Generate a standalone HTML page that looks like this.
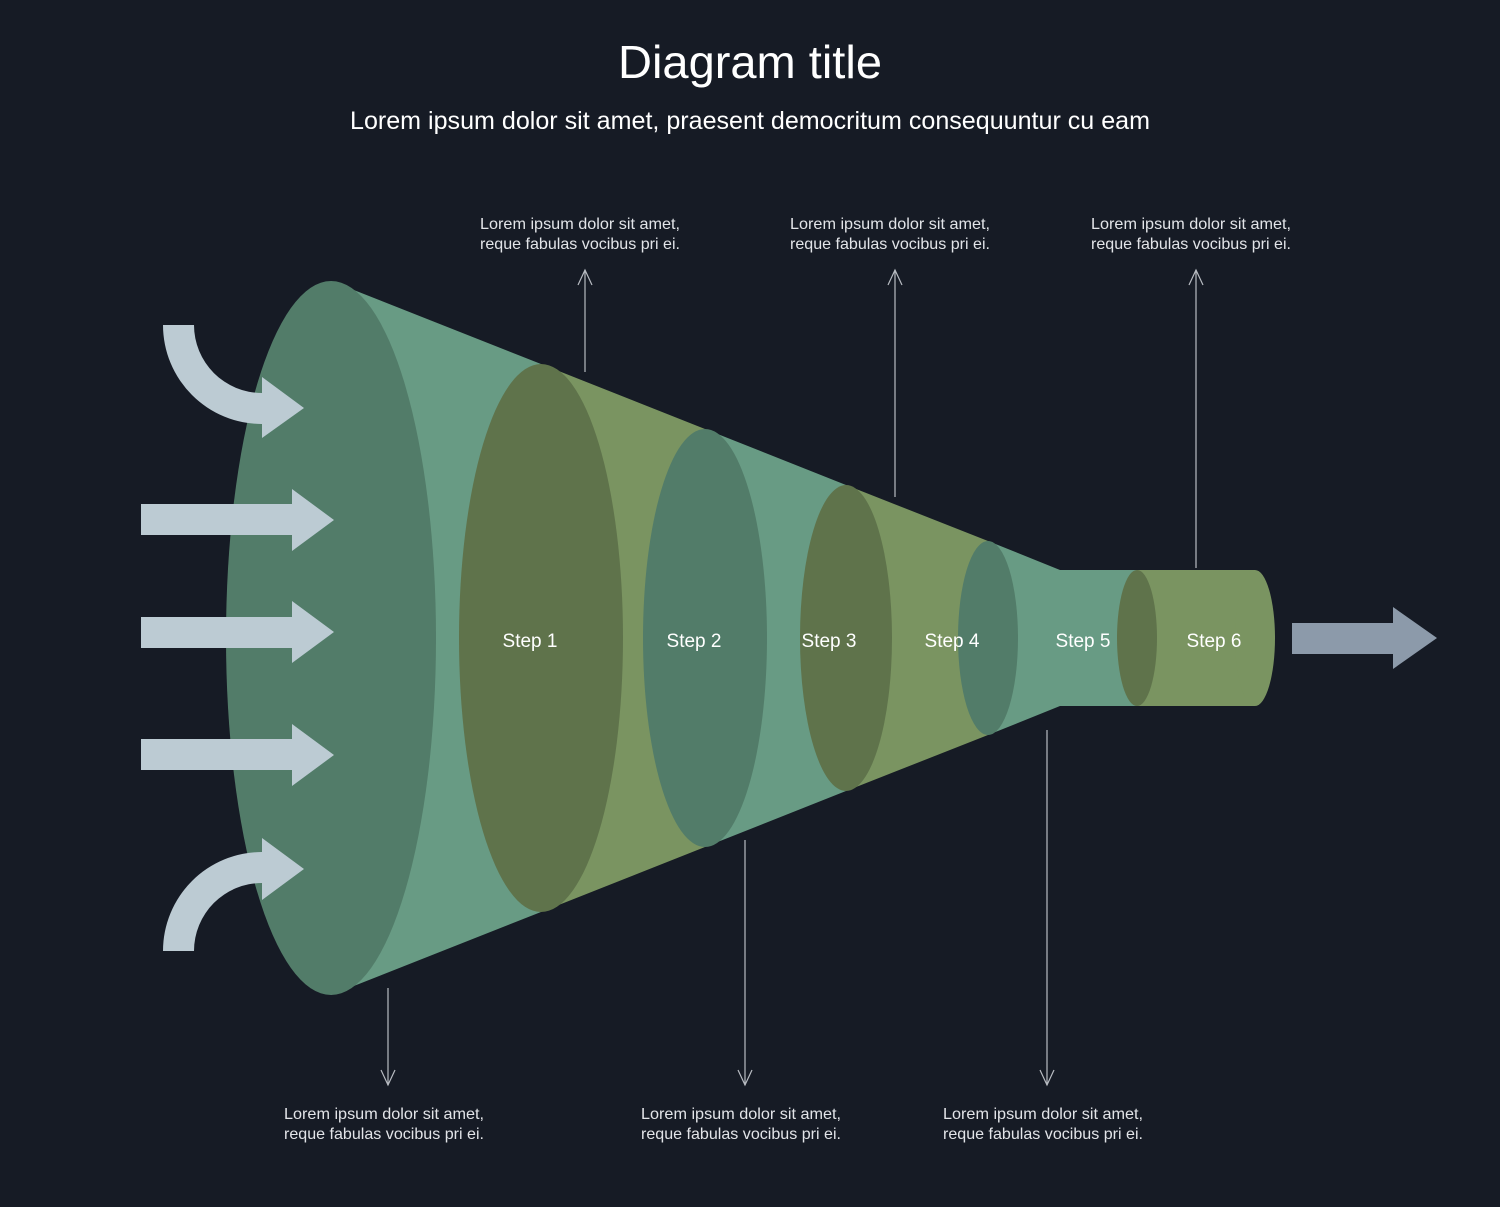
<!DOCTYPE html>
<html><head><style>html,body{margin:0;padding:0;background:#161b25;}svg{display:block}</style></head>
<body>
<svg width="1500" height="1207" viewBox="0 0 1500 1207" xmlns="http://www.w3.org/2000/svg" font-family="Liberation Sans, sans-serif">
<rect width="1500" height="1207" fill="#161b25"/>
<text x="750" y="78" font-size="46" fill="#fff" text-anchor="middle" textLength="264" lengthAdjust="spacingAndGlyphs">Diagram title</text>
<text x="750" y="129" font-size="25" fill="#fff" text-anchor="middle" textLength="800" lengthAdjust="spacingAndGlyphs">Lorem ipsum dolor sit amet, praesent democritum consequuntur cu eam</text>

<!-- bodies -->
<polygon points="331,281 541,364 541,912 331,995" fill="#689b84"/>
<polygon points="541,364 705,429 705,847 541,912" fill="#7a9461"/>
<polygon points="705,429 846,485 846,791 705,847" fill="#689b84"/>
<polygon points="846,485 988,541 988,735 846,791" fill="#7a9461"/>
<polygon points="988,541 1060,570 1137,570 1137,706 1060,706 988,735" fill="#689b84"/>
<rect x="1137" y="570" width="118" height="136" fill="#7a9461"/>
<ellipse cx="1255" cy="638" rx="20" ry="68" fill="#7a9461"/>
<!-- faces -->
<ellipse cx="331" cy="638" rx="105" ry="357" fill="#527c69"/>
<ellipse cx="541" cy="638" rx="82" ry="274" fill="#5f734b"/>
<ellipse cx="705" cy="638" rx="62" ry="209" fill="#527c69"/>
<ellipse cx="846" cy="638" rx="46" ry="153" fill="#5f734b"/>
<ellipse cx="988" cy="638" rx="30" ry="97" fill="#527c69"/>
<ellipse cx="1137" cy="638" rx="20" ry="68" fill="#5f734b"/>

<g fill="#fff" font-size="19" text-anchor="middle">
<text x="530" y="647">Step 1</text>
<text x="694" y="647">Step 2</text>
<text x="829" y="647">Step 3</text>
<text x="952" y="647">Step 4</text>
<text x="1083" y="647">Step 5</text>
<text x="1214" y="647">Step 6</text>
</g>

<!-- input arrows -->
<g fill="#bccbd3">
<polygon points="141,504 292,504 292,489 334,520 292,551 292,535 141,535"/>
<polygon points="141,617 292,617 292,601 334,632 292,663 292,648 141,648"/>
<polygon points="141,739 292,739 292,724 334,755 292,786 292,770 141,770"/>
<path d="M163,325 L194,325 A68,68 0 0 0 262,393 L262,377 L304,408 L262,438 L262,424 A99,99 0 0 1 163,325 Z"/>
<path d="M163,951 L194,951 A68,68 0 0 1 262,883 L262,900 L304,869 L262,838 L262,852 A99,99 0 0 0 163,951 Z"/>
</g>
<polygon points="1292,623 1393,623 1393,607 1437,638 1393,669 1393,654 1292,654" fill="#8c9aaa"/>

<!-- annotation lines -->
<g stroke="#b8bcc2" stroke-width="1.2" fill="none">
<line x1="585" y1="372" x2="585" y2="270"/><polyline points="578,285 585,270 592,285"/>
<line x1="895" y1="497" x2="895" y2="270"/><polyline points="888,285 895,270 902,285"/>
<line x1="1196" y1="568" x2="1196" y2="270"/><polyline points="1189,285 1196,270 1203,285"/>
<line x1="388" y1="988" x2="388" y2="1085"/><polyline points="381,1070 388,1085 395,1070"/>
<line x1="745" y1="840" x2="745" y2="1085"/><polyline points="738,1070 745,1085 752,1070"/>
<line x1="1047" y1="730" x2="1047" y2="1085"/><polyline points="1040,1070 1047,1085 1054,1070"/>
</g>

<g fill="#e2e4e8" font-size="16">
<text x="480" y="229" textLength="200" lengthAdjust="spacingAndGlyphs">Lorem ipsum dolor sit amet,</text>
<text x="480" y="249" textLength="200" lengthAdjust="spacingAndGlyphs">reque fabulas vocibus pri ei.</text>
<text x="790" y="229" textLength="200" lengthAdjust="spacingAndGlyphs">Lorem ipsum dolor sit amet,</text>
<text x="790" y="249" textLength="200" lengthAdjust="spacingAndGlyphs">reque fabulas vocibus pri ei.</text>
<text x="1091" y="229" textLength="200" lengthAdjust="spacingAndGlyphs">Lorem ipsum dolor sit amet,</text>
<text x="1091" y="249" textLength="200" lengthAdjust="spacingAndGlyphs">reque fabulas vocibus pri ei.</text>
<text x="284" y="1119" textLength="200" lengthAdjust="spacingAndGlyphs">Lorem ipsum dolor sit amet,</text>
<text x="284" y="1139" textLength="200" lengthAdjust="spacingAndGlyphs">reque fabulas vocibus pri ei.</text>
<text x="641" y="1119" textLength="200" lengthAdjust="spacingAndGlyphs">Lorem ipsum dolor sit amet,</text>
<text x="641" y="1139" textLength="200" lengthAdjust="spacingAndGlyphs">reque fabulas vocibus pri ei.</text>
<text x="943" y="1119" textLength="200" lengthAdjust="spacingAndGlyphs">Lorem ipsum dolor sit amet,</text>
<text x="943" y="1139" textLength="200" lengthAdjust="spacingAndGlyphs">reque fabulas vocibus pri ei.</text>
</g>
</svg>
</body></html>
